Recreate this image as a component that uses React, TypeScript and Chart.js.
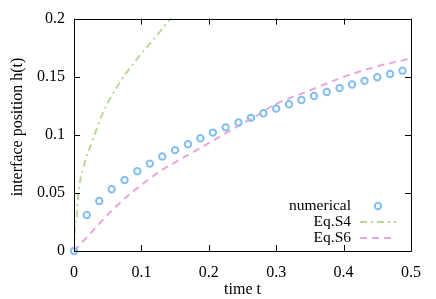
import React, { useEffect, useRef } from "react";
import { Chart, registerables } from "chart.js";

Chart.register(...registerables);

const numT = [0, 0.019, 0.0375, 0.056, 0.075, 0.094, 0.1125, 0.131, 0.15, 0.169, 0.1875, 0.206, 0.225, 0.244, 0.2625, 0.281, 0.3, 0.319, 0.3375, 0.356, 0.375, 0.394, 0.4125, 0.431, 0.45, 0.469, 0.4875];
const numH = [0, 0.031, 0.0431, 0.0531, 0.061, 0.0687, 0.0752, 0.0814, 0.0868, 0.0919, 0.097, 0.1019, 0.1064, 0.1106, 0.1146, 0.1186, 0.1226, 0.1263, 0.13, 0.1334, 0.1368, 0.1402, 0.1433, 0.1464, 0.1495, 0.1523, 0.1552];

const s4T = [0, 0.001, 0.004, 0.0064, 0.0138, 0.0287, 0.0435, 0.068, 0.093, 0.118, 0.142, 0.16];
const s4H = [0, 0.017, 0.029, 0.049, 0.0715, 0.097, 0.1197, 0.145, 0.165, 0.182, 0.199, 0.21];

const s6T = [0, 0.0237, 0.0534, 0.083, 0.098, 0.1276, 0.157, 0.187, 0.2166, 0.246, 0.2685, 0.296, 0.345, 0.395, 0.444, 0.5];
const s6H = [0, 0.0148, 0.0332, 0.049, 0.0559, 0.0687, 0.0786, 0.0885, 0.0985, 0.1084, 0.1155, 0.1255, 0.137, 0.1487, 0.158, 0.1657];

const xTicks = [0, 0.1, 0.2, 0.3, 0.4, 0.5];
const yTicks = [0, 0.05, 0.1, 0.15, 0.2];
const seriesNames = ["numerical", "Eq.S4", "Eq.S6"];
const xTitle = "time t";
const yTitle = "interface position h(t)";

const BLUE = "#82bff0";
const GREEN = "#b4dc96";
const PINK = "#e8a8dc";
const FONT = "'Liberation Serif', 'DejaVu Serif', serif";

const toPts = (xs: number[], ys: number[]) => xs.map((x, i) => ({ x, y: ys[i] }));

const framePlugin = {
  id: "frame",
  afterDraw(chart: any) {
    const { ctx, chartArea: a, scales } = chart;
    const xs = scales.x;
    const ys = scales.y;
    ctx.save();
    ctx.strokeStyle = "#000";
    ctx.lineWidth = 1;
    ctx.beginPath();
    ctx.rect(Math.round(a.left) + 0.5, Math.round(a.top) + 0.5, Math.round(a.right - a.left), Math.round(a.bottom - a.top));
    ctx.stroke();
    const tl = 6;
    ctx.beginPath();
    xTicks.forEach((v) => {
      const px = Math.round(xs.getPixelForValue(v)) + 0.5;
      ctx.moveTo(px, a.bottom);
      ctx.lineTo(px, a.bottom - tl);
      ctx.moveTo(px, a.top);
      ctx.lineTo(px, a.top + tl);
    });
    yTicks.forEach((v) => {
      const py = Math.round(ys.getPixelForValue(v)) + 0.5;
      ctx.moveTo(a.left, py);
      ctx.lineTo(a.left + tl, py);
      ctx.moveTo(a.right, py);
      ctx.lineTo(a.right - tl, py);
    });
    ctx.stroke();

    // axis titles
    ctx.fillStyle = "#000";
    ctx.font = `16px ${FONT}`;
    ctx.textAlign = "center";
    ctx.textBaseline = "middle";
    ctx.fillText(xTitle, (a.left + a.right) / 2, 290);
    ctx.save();
    ctx.translate(18, 127);
    ctx.rotate(-Math.PI / 2);
    ctx.fillText(yTitle, 0, 0);
    ctx.restore();

    // legend
    ctx.font = `15.5px ${FONT}`;
    const textRight = 351;
    const sx0 = 360;
    const sx1 = 396;
    const rows = [206, 222, 238];
    ctx.textAlign = "right";
    chart.data.datasets.forEach((ds: any, i: number) => {
      const y = rows[i];
      ctx.fillStyle = "#000";
      ctx.fillText(seriesNames[i], textRight, y);
      if (i === 0) {
        ctx.beginPath();
        ctx.strokeStyle = ds.pointBorderColor;
        ctx.lineWidth = ds.pointBorderWidth;
        ctx.arc((sx0 + sx1) / 2, y, ds.pointRadius, 0, Math.PI * 2);
        ctx.stroke();
      } else {
        ctx.beginPath();
        ctx.strokeStyle = ds.borderColor;
        ctx.lineWidth = ds.borderWidth;
        ctx.setLineDash(ds.borderDash);
        ctx.moveTo(sx0, y);
        ctx.lineTo(sx1, y);
        ctx.stroke();
        ctx.setLineDash([]);
      }
    });
    ctx.restore();
  },
};

export default function App() {
  const ref = useRef<HTMLCanvasElement>(null);
  useEffect(() => {
    document.body.style.margin = "0";
    const chart = new Chart(ref.current!, {
      type: "line",
      data: {
        datasets: [
          {
            label: seriesNames[0],
            data: toPts(numT, numH),
            showLine: false,
            pointRadius: 3.2,
            pointBorderWidth: 2,
            pointBorderColor: BLUE,
            pointBackgroundColor: "rgba(0,0,0,0)",
            borderColor: BLUE,
            clip: false as any,
          },
          {
            label: seriesNames[1],
            data: toPts(s4T, s4H),
            borderColor: GREEN,
            borderWidth: 2,
            borderDash: [7, 4, 2, 4],
            pointRadius: 0,
            cubicInterpolationMode: "monotone",
            fill: false,
          },
          {
            label: seriesNames[2],
            data: toPts(s6T, s6H),
            borderColor: PINK,
            borderWidth: 2,
            borderDash: [7, 5],
            pointRadius: 0,
            cubicInterpolationMode: "monotone",
            fill: false,
          },
        ],
      },
      options: {
        animation: false,
        responsive: false,
        devicePixelRatio: 1,
        layout: { padding: { top: 16, right: 25, left: 0, bottom: 0 } },
        plugins: { legend: { display: false }, tooltip: { enabled: false } },
        scales: {
          x: {
            type: "linear",
            min: 0,
            max: 0.5,
            afterFit: (s: any) => { s.height = 48; },
            afterBuildTicks: (s: any) => { s.ticks = xTicks.map((v) => ({ value: v })); },
            grid: { display: false, drawTicks: false },
            border: { display: false },
            ticks: {
              padding: 12,
              color: "#000",
              font: { family: FONT, size: 16 },
              callback: (v: any) => String(v),
            },
          },
          y: {
            type: "linear",
            min: 0,
            max: 0.2,
            afterFit: (s: any) => { s.width = 74; },
            afterBuildTicks: (s: any) => { s.ticks = yTicks.map((v) => ({ value: v })); },
            grid: { display: false, drawTicks: false },
            border: { display: false },
            ticks: {
              padding: 9,
              color: "#000",
              font: { family: FONT, size: 16 },
              callback: (v: any) => String(v),
            },
          },
        },
      },
      plugins: [framePlugin],
    });
    return () => chart.destroy();
  }, []);
  return <canvas ref={ref} width={436} height={299} style={{ display: "block" }} />;
}
